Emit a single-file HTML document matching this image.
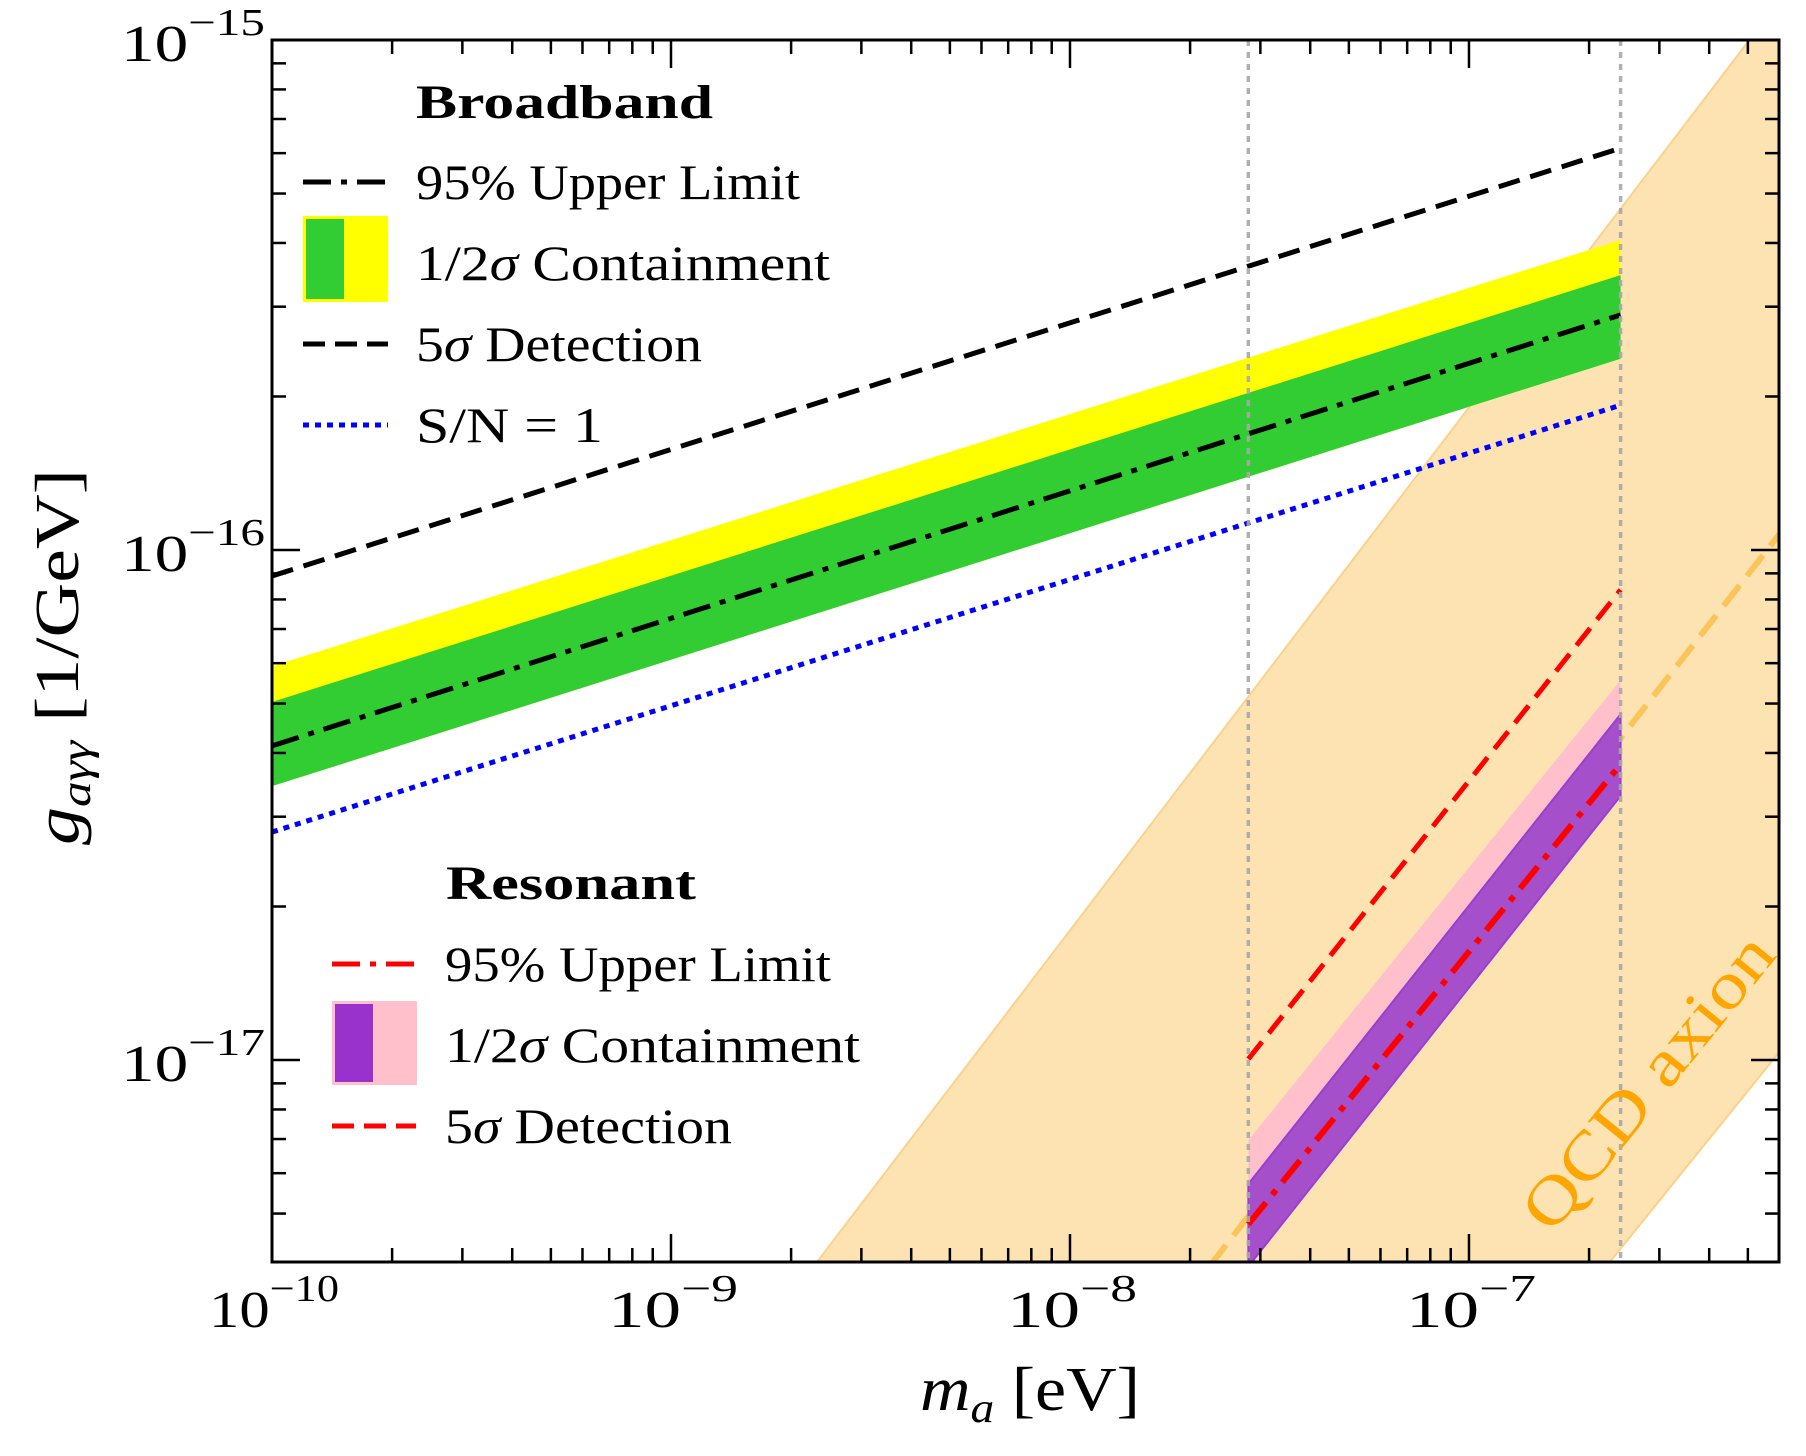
<!DOCTYPE html>
<html><head><meta charset="utf-8">
<style>
html,body{margin:0;padding:0;background:#fff;width:1806px;height:1456px;overflow:hidden;position:relative;}
svg{display:block;font-family:"Liberation Serif",serif;}
</style></head>
<body>
<svg id="chart" width="1806" height="1456" viewBox="0 0 1806 1456" xmlns="http://www.w3.org/2000/svg" style="position:absolute;left:0;top:0">
<defs><clipPath id="plotclip"><rect x="272" y="40" width="1507" height="1222"/></clipPath></defs>
<g id="plot" clip-path="url(#plotclip)"></g>
<g id="overlay"></g>
</svg>
<script>
// ---- data (log10 values) ----
const xTickDecades = [-10, -9, -8, -7];
const yTickDecades = [-15, -16, -17];
const broadX = [-10, -6.62];
const bb5sigma = [-16.051, -15.212];
const bbLimit = [-16.384, -15.539];
const bbGreenTop = [-16.298, -15.461];
const bbGreenBot = [-16.463, -15.625];
const bbYellowTop = [-16.228, -15.392];
const bbSN1 = [-16.553, -15.716];
const resX = [-7.553, -6.62];
const res5sigma = [-16.998, -16.078];
const resLimit = [-17.322, -16.420];
const resPurpleTop = [-17.243, -16.322];
const resPurpleBot = [-17.405, -16.482];
const resPinkTop = [-17.157, -16.255];
const qcdLeftX = [-8.634, -6.303];
const qcdLeftY = [-17.396, -15.006];
const qcdRightX = [-6.647, -6.223];
const qcdRightY = [-17.396, -16.985];
const qcdCenterX = [-7.642, -6.223];
const qcdCenterY = [-17.396, -15.97];
const vLines = [-7.553, -6.62];

// ---- axes ----
const X0 = 272, X1 = 1779, Y0 = 40, Y1 = 1262;
const xMin = -10, xMax = -6.223, yMax = -15, yMin = -17.396;
const sx = v => X0 + (v - xMin) / (xMax - xMin) * (X1 - X0);
const sy = v => Y0 + (yMax - v) / (yMax - yMin) * (Y1 - Y0);
const NS = "http://www.w3.org/2000/svg";
const plot = document.getElementById('plot');
const ov = document.getElementById('overlay');
function mk(tag, attrs, parent) {
  const e = document.createElementNS(NS, tag);
  for (const k in attrs) e.setAttribute(k, attrs[k]);
  parent.appendChild(e);
  return e;
}
function linePts(xs, ys) { return xs.map((x, i) => sx(x) + ',' + sy(ys[i])).join(' '); }
function band(xs, top, bot) {
  return sx(xs[0]) + ',' + sy(top[0]) + ' ' + sx(xs[1]) + ',' + sy(top[1]) + ' ' + sx(xs[1]) + ',' + sy(bot[1]) + ' ' + sx(xs[0]) + ',' + sy(bot[0]);
}
function extend(xs, ys, x) { const m = (ys[1] - ys[0]) / (xs[1] - xs[0]); return ys[0] + m * (x - xs[0]); }

// QCD band
const qlX0 = -10, qlX1 = -5;
const qPoly = [
  [qlX0, extend(qcdLeftX, qcdLeftY, qlX0)], [qlX1, extend(qcdLeftX, qcdLeftY, qlX1)],
  [qlX1, extend(qcdRightX, qcdRightY, qlX1)], [qlX0, extend(qcdRightX, qcdRightY, qlX0)]
];
let e = mk('polygon', {points: qPoly.map(p => sx(p[0]) + ',' + sy(p[1])).join(' '), fill: '#fee3b2', stroke: 'none'}, plot);


e = mk('polyline', {points: linePts([qlX0, qlX1], [extend(qcdLeftX, qcdLeftY, qlX0), extend(qcdLeftX, qcdLeftY, qlX1)]), fill: 'none', stroke: '#fcd28a', 'stroke-width': 2}, plot);


e = mk('polyline', {points: linePts([qlX0, qlX1], [extend(qcdRightX, qcdRightY, qlX0), extend(qcdRightX, qcdRightY, qlX1)]), fill: 'none', stroke: '#fcd28a', 'stroke-width': 2}, plot);


e = mk('polyline', {points: linePts([-8, -5], [extend(qcdCenterX, qcdCenterY, -8), extend(qcdCenterX, qcdCenterY, -5)]), fill: 'none', stroke: '#fbc45a', 'stroke-width': 6, 'stroke-dasharray': '26 12'}, plot);



// broadband
e = mk('polygon', {points: band(broadX, bbYellowTop, bbGreenBot), fill: '#ffff00'}, plot);


e = mk('polygon', {points: band(broadX, bbGreenTop, bbGreenBot), fill: '#32cd32'}, plot);


e = mk('polyline', {points: linePts(broadX, bb5sigma), fill: 'none', stroke: '#000', 'stroke-width': 5, 'stroke-dasharray': '22 11'}, plot);


e = mk('polyline', {points: linePts(broadX, bbLimit), fill: 'none', stroke: '#000', 'stroke-width': 5, 'stroke-dasharray': '28 10 6 10'}, plot);


e = mk('polyline', {points: linePts(broadX, bbSN1), fill: 'none', stroke: '#0000ff', 'stroke-width': 5, 'stroke-dasharray': '6 6'}, plot);



// resonant
e = mk('polygon', {points: band(resX, resPinkTop, resPurpleBot), fill: '#ffc0cb'}, plot);


e = mk('polygon', {points: band(resX, resPurpleTop, resPurpleBot), fill: '#a64fcb', stroke: '#9a3ed0', 'stroke-width': 2}, plot);


e = mk('polyline', {points: linePts(resX, res5sigma), fill: 'none', stroke: '#ff0000', 'stroke-width': 5, 'stroke-dasharray': '22 11'}, plot);


e = mk('polyline', {points: linePts(resX, resLimit), fill: 'none', stroke: '#ff0000', 'stroke-width': 6, 'stroke-dasharray': '28 10 6 10'}, plot);



// vertical dotted lines
vLines.forEach(v => {
  const l = mk('line', {x1: sx(v), x2: sx(v), y1: Y0, y2: Y1, stroke: '#a8a8a8', 'stroke-width': 3.5, 'stroke-dasharray': '6 6', opacity: 0.9}, plot);
  
  
});

// axes frame
e = mk('rect', {x: X0, y: Y0, width: X1 - X0, height: Y1 - Y0, fill: 'none', stroke: '#000', 'stroke-width': 3}, ov);



// QCD text
e = mk('text', {x: 0, y: 0, fill: '#ffa500', 'font-size': 66, 'text-anchor': 'middle', 'dominant-baseline': 'central', textLength: 360, lengthAdjust: 'spacingAndGlyphs', transform: 'translate(1648,1082) rotate(-51)'}, ov);
e.textContent = 'QCD axion';



function tick(x1, y1, x2, y2, name) {
  const t = mk('line', {x1, y1, x2, y2, stroke: '#000', 'stroke-width': 2.5}, ov);
  
  
}
for (let d = -10; d <= -7; d++) {
  for (let m = 1; m <= 9; m++) {
    const v = d + Math.log10(m);
    if (v > xMax) continue;
    const L = m === 1 ? 28 : 14;
    const px = sx(v);
    tick(px, Y1, px, Y1 - L, 'x-tick');
    tick(px, Y0, px, Y0 + L, 'x-tick-top');
  }
}
for (let d = -18; d <= -15; d++) {
  for (let m = 1; m <= 9; m++) {
    const v = d + Math.log10(m);
    if (v > yMax + 1e-9 || v < yMin) continue;
    const L = m === 1 ? 28 : 14;
    const py = sy(v);
    tick(X0, py, X0 + L, py, 'y-tick');
    tick(X1, py, X1 - L, py, 'y-tick-right');
  }
}
xTickDecades.forEach(d => {
  const t = mk('text', {x: sx(d) + 2, y: 1327, 'font-size': 52, 'text-anchor': 'middle', textLength: 130, lengthAdjust: 'spacingAndGlyphs'}, ov);
  
  
  t.innerHTML = '10<tspan dy="-26" font-size="38">−' + (-d) + '</tspan>';
});
yTickDecades.forEach(d => {
  const t = mk('text', {x: 121, y: sy(d) + 21, 'font-size': 52, textLength: 144, lengthAdjust: 'spacingAndGlyphs'}, ov);
  
  
  t.innerHTML = '10<tspan dy="-26" font-size="38">−' + (-d) + '</tspan>';
});
</script>
<svg style="position:absolute;left:0;top:0" width="1806" height="1456">
<g font-family="Liberation Serif, serif" fill="#000">
<text x="1030" y="1410" font-size="62" text-anchor="middle" textLength="220" lengthAdjust="spacingAndGlyphs"><tspan font-style="italic">m</tspan><tspan font-style="italic" font-size="42" dy="12">a</tspan><tspan dy="-12"> [eV]</tspan></text>
<text transform="translate(78,657) rotate(-90)" font-size="62" text-anchor="middle" textLength="376" lengthAdjust="spacingAndGlyphs"><tspan font-style="italic">g</tspan><tspan font-style="italic" font-size="42" dy="12">aγγ</tspan><tspan dy="-12"> [1/GeV]</tspan></text>

<g>
<text x="416" y="118" font-size="48" font-weight="bold" textLength="297" lengthAdjust="spacingAndGlyphs">Broadband</text>
<line x1="303" y1="182" x2="388" y2="182" stroke="#000" stroke-width="5" stroke-dasharray="28 10 6 10"/>
<text x="416" y="199" font-size="50" textLength="384" lengthAdjust="spacingAndGlyphs">95% Upper Limit</text>
<rect x="303" y="216" width="85" height="86" fill="#ffff00"/>
<rect x="306" y="219" width="38" height="80" fill="#32cd32"/>
<text x="416" y="280" font-size="50" textLength="414" lengthAdjust="spacingAndGlyphs">1/2<tspan font-style="italic">σ</tspan> Containment</text>
<line x1="303" y1="344" x2="388" y2="344" stroke="#000" stroke-width="5" stroke-dasharray="22 10"/>
<text x="416" y="361" font-size="50" textLength="286" lengthAdjust="spacingAndGlyphs">5<tspan font-style="italic">σ</tspan> Detection</text>
<line x1="303" y1="425" x2="388" y2="425" stroke="#0000ff" stroke-width="5" stroke-dasharray="6 6"/>
<text x="416" y="442" font-size="50" textLength="187" lengthAdjust="spacingAndGlyphs">S/N = 1</text>
</g>

<g>
<text x="446" y="899" font-size="48" font-weight="bold" textLength="250" lengthAdjust="spacingAndGlyphs">Resonant</text>
<line x1="332" y1="964" x2="416" y2="964" stroke="#ff0000" stroke-width="5" stroke-dasharray="28 10 6 10"/>
<text x="445" y="981" font-size="50" textLength="386" lengthAdjust="spacingAndGlyphs">95% Upper Limit</text>
<rect x="332" y="1001" width="85" height="84" fill="#ffc0cb"/>
<rect x="335" y="1004" width="38" height="78" fill="#9932cc"/>
<text x="445" y="1062" font-size="50" textLength="415" lengthAdjust="spacingAndGlyphs">1/2<tspan font-style="italic">σ</tspan> Containment</text>
<line x1="332" y1="1126" x2="416" y2="1126" stroke="#ff0000" stroke-width="5" stroke-dasharray="22 10"/>
<text x="445" y="1143" font-size="50" textLength="287" lengthAdjust="spacingAndGlyphs">5<tspan font-style="italic">σ</tspan> Detection</text>
</g>
</g>
</svg>
</body></html>
